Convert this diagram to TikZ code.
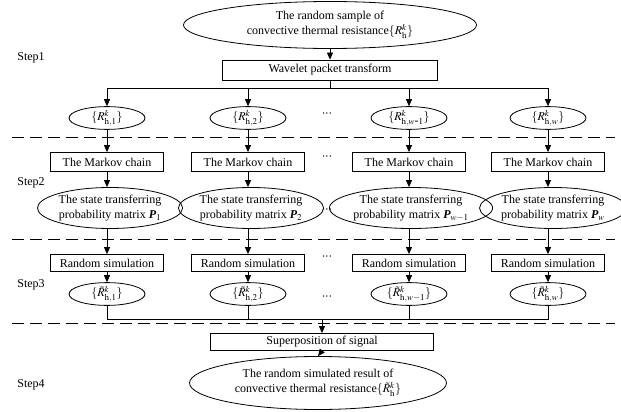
\documentclass[tikz,border=0pt]{standalone}
\usepackage{amsmath}
\usepackage{mathptmx}
\usepackage{fontspec}
\setmainfont{Liberation Serif}
\usetikzlibrary{arrows.meta,shapes.geometric,positioning}

\newcommand{\matP}{\textbf{\textit{P}}}
\newcommand{\moredots}{\textbullet\hspace{1.2pt}\textbullet\hspace{1.2pt}\textbullet}

\begin{document}
\begin{tikzpicture}
  [
    x=1pt, y=-1pt,
    every node/.style={
      font=\fontsize{12}{15}\selectfont,
    },
    line/.style={
      line width=0.8pt
    },
    arr/.style={
      line width=0.8pt, -{Triangle[length=7pt,width=6pt]}
    },
    box/.style={
      rectangle, draw, line width=0.8pt,
      inner sep=0pt, minimum width=113, minimum height=19
    },
    oval/.style={
      ellipse, draw, line width=0.8pt,
      inner sep=0pt, minimum width=76, minimum height=22
    },
    bigoval/.style={
      ellipse, draw, line width=0.8pt, align=center,
      inner sep=0pt, minimum width=138, minimum height=41
    },
    sep/.style={
      line width=0.9pt, dash pattern=on 12pt off 6pt
    },
    dots/.style={
      inner sep=0pt, font=\fontsize{6}{6}\selectfont
    },
    steplabel/.style={
      inner sep=0pt
    }
  ]
\useasboundingbox (0,0) rectangle (621,412);

% Step1
\node (step1) [steplabel] at (31,58) {Step1};
\node (sample) [bigoval, minimum width=293, minimum height=47]
  at (330,25) {The random sample of\\convective thermal resistance$\{R^{k}_{\mathrm{h}}\}$};
\node (wpt) [box, minimum width=215, minimum height=20] at (330,70) {Wavelet packet transform};
\draw [arr] (sample.south) -- (wpt.north);

\node (r1) [oval] at (107,118) {$\{R^{k}_{\mathrm{h},1}\}$};
\node (r2) [oval] at (248,118) {$\{R^{k}_{\mathrm{h},2}\}$};
\node (d1) [dots] at (327,114) {\moredots};
\node (r3) [oval] at (409,118) {$\{R^{k}_{\mathrm{h},w\mbox{-}1}\}$};
\node (r4) [oval] at (548,118) {$\{R^{k}_{\mathrm{h},w}\}$};

\coordinate (split) at (330,88);
\draw [line] (wpt.south) -- (split);
\draw [arr] (split) -| (r1.north);
\draw [arr] (split) -| (r2.north);
\draw [arr] (split) -| (r3.north);
\draw [arr] (split) -| (r4.north);

\draw [sep] (12,137) -- (615,137);

% Step2
\node (step2) [steplabel] at (31,183) {Step2};
\node (mc1) [box] at (107,162) {The Markov chain};
\node (mc2) [box] at (248,162) {The Markov chain};
\node (d2) [dots] at (327,157) {\moredots};
\node (mc3) [box] at (409,162) {The Markov chain};
\node (mc4) [box] at (548,162) {The Markov chain};

\draw [arr] (r1.south) -- (mc1.north);
\draw [arr] (r2.south) -- (mc2.north);
\draw [arr] (r3.south) -- (mc3.north);
\draw [arr] (r4.south) -- (mc4.north);

\node (pm1) [bigoval] at (110,208) {The state transferring\\probability matrix \matP$_{1}$};
\node (pm2) [bigoval] at (251,208) {The state transferring\\probability matrix \matP$_{2}$};
\node (d3) [dots] at (327,210) {\moredots};
\node (pm3) [bigoval, minimum width=145] at (411,208) {The state transferring\\probability matrix \matP$_{w-1}$};
\node (pm4) [bigoval, minimum width=134] at (553,208) {The state transferring\\probability matrix \matP$_{w}$};

\draw [arr] (mc1.south) -- (mc1.south |- pm1.north);
\draw [arr] (mc2.south) -- (mc2.south |- pm2.north);
\draw [arr] (mc3.south) -- (mc3.south |- pm3.north);
\draw [arr] (mc4.south) -- (mc4.south |- pm4.north);

\draw [sep] (12,239) -- (615,239);

% Step3
\node (step3) [steplabel] at (31,285) {Step3};
\node (rs1) [box, minimum height=17] at (107,263) {Random simulation};
\node (rs2) [box, minimum height=17] at (248,263) {Random simulation};
\node (d4) [dots] at (327,257) {\moredots};
\node (rs3) [box, minimum height=17] at (409,263) {Random simulation};
\node (rs4) [box, minimum height=17] at (548,263) {Random simulation};

\draw [arr] (rs1.north |- pm1.south) -- (rs1.north);
\draw [arr] (rs2.north |- pm2.south) -- (rs2.north);
\draw [arr] (rs3.north |- pm3.south) -- (rs3.north);
\draw [arr] (rs4.north |- pm4.south) -- (rs4.north);

\node (rt1) [oval, minimum height=20] at (107,294) {$\{\tilde{R}^{k}_{\mathrm{h},1}\}$};
\node (rt2) [oval, minimum height=20] at (248,294) {$\{\tilde{R}^{k}_{\mathrm{h},2}\}$};
\node (d5) [dots] at (327,297) {\moredots};
\node (rt3) [oval, minimum height=20] at (409,294) {$\{\tilde{R}^{k}_{\mathrm{h},w-1}\}$};
\node (rt4) [oval, minimum height=20] at (548,294) {$\{\tilde{R}^{k}_{\mathrm{h},w}\}$};

\draw [arr] (rs1.south) -- (rt1.north);
\draw [arr] (rs2.south) -- (rt2.north);
\draw [arr] (rs3.south) -- (rt3.north);
\draw [arr] (rs4.south) -- (rt4.north);

\draw [sep] (12,323) -- (615,323);

% Step4
\node (step4) [steplabel] at (31,385) {Step4};
\node (sup) [box, minimum width=223, minimum height=17] at (322,342) {Superposition of signal};
\coordinate (join) at (322,319);
\draw [line] (rt1.south) |- (join);
\draw [line] (rt2.south) |- (join);
\draw [line] (rt3.south) |- (join);
\draw [line] (rt4.south) |- (join);
\draw [arr] (join) -- (sup.north);

\node (result) [bigoval, minimum width=257, minimum height=53]
  at (318,383) {The random simulated result of\\convective thermal resistance$\{\tilde{R}^{k}_{\mathrm{h}}\}$};
\draw [arr] (sup.south) -- (result.north);

\end{tikzpicture}
\end{document}
